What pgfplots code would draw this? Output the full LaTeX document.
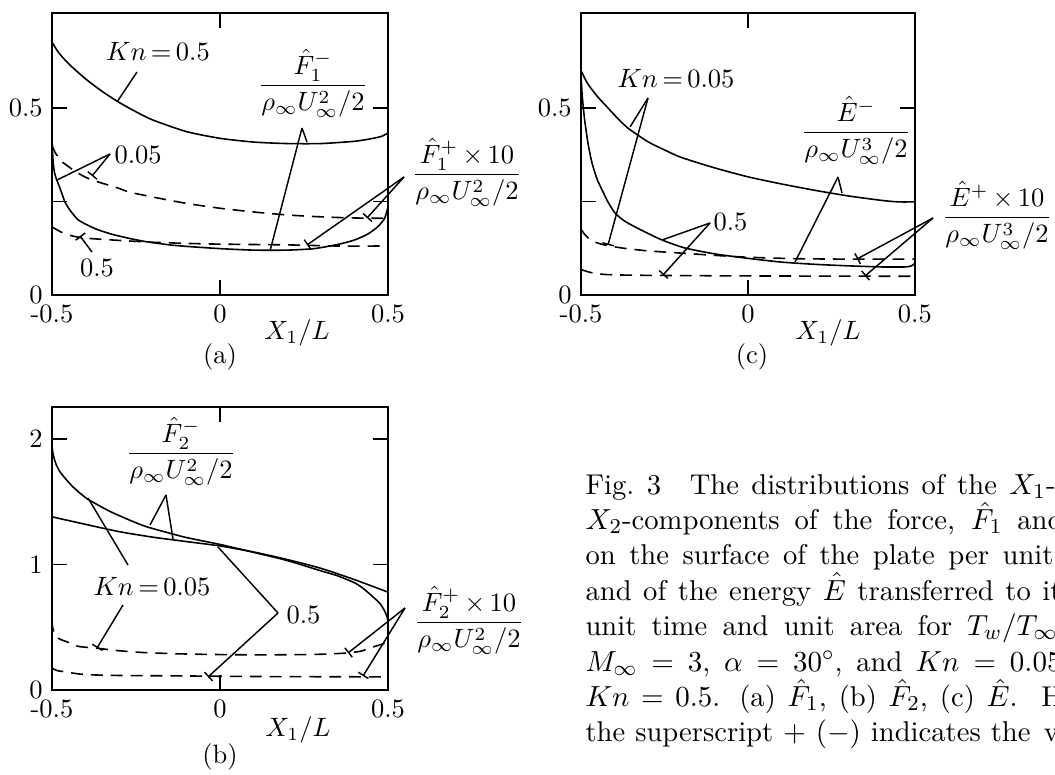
\documentclass[border=0pt]{standalone}
\usepackage{amsmath}
\usepackage{pgfplots}
\pgfplotsset{compat=1.18}
\usetikzlibrary{arrows.meta}

\newdimen\pxu \pxu=0.3774pt

\pgfplotsset{
  panel/.style={
    scale only axis,
    anchor=south west,
    xmin=-0.5, xmax=0.5, ymin=0,
    xtick={-0.5,0,0.5},
    xticklabels={\mbox{-0.5},0,0.5},
    tick align=inside,
    major tick length=5.6pt,
    axis line style={line width=0.75pt},
    major tick style={line width=0.6pt, black},
    tick label style={font=\normalsize},
  },
  sol/.style={black, line width=0.6pt, smooth, tension=0.4, no marks},
  das/.style={black, line width=0.6pt, dash pattern=on 4.5pt off 3pt, smooth, tension=0.4, no marks},
}
\tikzset{
  lead/.style={line width=0.55pt},
  leadbar/.style={line width=0.55pt, -{Bar[width=4.5pt]}},
}

\begin{document}
\begin{tikzpicture}[x=0.3774pt, y=-0.3774pt]
\useasboundingbox (0,0) rectangle (1055,774);
\clip (0,0) rectangle (1055,774);

% ---------- (a) F1 ----------
\begin{axis}[panel, at={(19.62pt,-111.33pt)}, width=126.8pt, height=106.4pt,
  ymax=0.754, ytick={0,0.25,0.5}, yticklabels={0,,0.5}]
% Kn = 0.5, F1^-
\addplot[sol] coordinates {(-0.5,0.676) (-0.48,0.648) (-0.45,0.618) (-0.4,0.578)
  (-0.35,0.544) (-0.3,0.515) (-0.25,0.49) (-0.2,0.468) (-0.1,0.437) (0,0.419)
  (0.1,0.409) (0.2,0.405) (0.3,0.405) (0.4,0.411) (0.45,0.418) (0.48,0.424) (0.5,0.433)};
% Kn = 0.05, F1^-
\addplot[sol] coordinates {(-0.5,0.42) (-0.497,0.36) (-0.493,0.33) (-0.487,0.31)
  (-0.481,0.297) (-0.47,0.27) (-0.461,0.248) (-0.445,0.225) (-0.422,0.201)
  (-0.39,0.185) (-0.362,0.174) (-0.32,0.162) (-0.273,0.152) (-0.223,0.143)
  (-0.15,0.134) (-0.1,0.13) (0,0.124) (0.1,0.12) (0.2,0.12) (0.28,0.124)
  (0.35,0.135) (0.4,0.147) (0.44,0.163) (0.47,0.183) (0.49,0.205) (0.5,0.235)};
% Kn = 0.05, F1^+ x 10
\addplot[das] coordinates {(-0.5,0.40) (-0.49,0.38) (-0.475,0.36) (-0.461,0.35)
  (-0.43,0.33) (-0.4,0.315) (-0.372,0.305) (-0.3,0.285) (-0.274,0.276)
  (-0.2,0.262) (-0.1,0.245) (0,0.232) (0.1,0.222) (0.2,0.214) (0.3,0.209)
  (0.4,0.206) (0.5,0.205)};
% Kn = 0.5, F1^+ x 10
\addplot[das] coordinates {(-0.5,0.182) (-0.47,0.167) (-0.44,0.158) (-0.4,0.152)
  (-0.3,0.146) (-0.2,0.141) (-0.1,0.138) (0,0.136) (0.2,0.134) (0.35,0.131) (0.5,0.131)};
\end{axis}

% ---------- (c) E ----------
\begin{axis}[panel, at={(219.27pt,-111.33pt)}, width=126.0pt, height=106.4pt,
  ymax=0.754, ytick={0,0.25,0.5}, yticklabels={0,,0.5}]
% Kn = 0.05, E^-
\addplot[sol] coordinates {(-0.5,0.6) (-0.48,0.565) (-0.45,0.53) (-0.419,0.5)
  (-0.39,0.472) (-0.359,0.446) (-0.3,0.41) (-0.25,0.388) (-0.2,0.368)
  (-0.1,0.34) (0,0.316) (0.1,0.297) (0.2,0.28) (0.3,0.265) (0.4,0.253)
  (0.45,0.249) (0.5,0.249)};
% Kn = 0.5, E^-
\addplot[sol] coordinates {(-0.5,0.59) (-0.497,0.54) (-0.493,0.5) (-0.488,0.46)
  (-0.478,0.40) (-0.467,0.353) (-0.452,0.31) (-0.437,0.281) (-0.42,0.25)
  (-0.398,0.219) (-0.37,0.198) (-0.338,0.182) (-0.3,0.165) (-0.257,0.147)
  (-0.19,0.126) (-0.1,0.11) (0,0.098) (0.1,0.088) (0.2,0.082) (0.3,0.078)
  (0.4,0.075) (0.47,0.075) (0.49,0.078) (0.5,0.085)};
% Kn = 0.05, E^+ x 10
\addplot[das] coordinates {(-0.5,0.176) (-0.49,0.163) (-0.478,0.152) (-0.46,0.142)
  (-0.43,0.134) (-0.38,0.126) (-0.3,0.118) (-0.2,0.112) (-0.1,0.106) (0,0.101)
  (0.15,0.097) (0.3,0.096) (0.5,0.096)};
% Kn = 0.5, E^+ x 10
\addplot[das] coordinates {(-0.5,0.068) (-0.47,0.06) (-0.43,0.055) (-0.35,0.053)
  (-0.2,0.052) (0,0.051) (0.5,0.05)};
\end{axis}

% ---------- (b) F2 ----------
\begin{axis}[panel, at={(19.62pt,-260.41pt)}, width=126.8pt, height=106.8pt,
  ymax=2.255, ytick={0,1,2}, yticklabels={0,1,2}]
% Kn = 0.5, F2^-
\addplot[sol] coordinates {(-0.5,1.38) (-0.4,1.32) (-0.3,1.262) (-0.2,1.218)
  (-0.1,1.183) (0,1.148) (0.1,1.1) (0.2,1.04) (0.3,0.97) (0.4,0.88) (0.5,0.78)};
% Kn = 0.05, F2^-
\addplot[sol] coordinates {(-0.5,1.95) (-0.498,1.9) (-0.494,1.85) (-0.488,1.8)
  (-0.479,1.75) (-0.465,1.70) (-0.44,1.625) (-0.415,1.565) (-0.393,1.52)
  (-0.35,1.455) (-0.321,1.415) (-0.27,1.355) (-0.223,1.305) (-0.164,1.26)
  (-0.1,1.215) (0,1.16) (0.1,1.097) (0.2,1.032) (0.3,0.95) (0.35,0.91)
  (0.4,0.855) (0.426,0.81) (0.45,0.755) (0.476,0.69) (0.49,0.63) (0.497,0.585)
  (0.5,0.55)};
% Kn = 0.05, F2^+ x 10
\addplot[das] coordinates {(-0.5,0.56) (-0.498,0.5) (-0.494,0.46) (-0.485,0.42)
  (-0.472,0.4) (-0.456,0.385) (-0.422,0.348) (-0.366,0.333) (-0.3,0.313)
  (-0.223,0.298) (-0.1,0.287) (0.05,0.281) (0.2,0.281) (0.3,0.285)
  (0.378,0.295) (0.42,0.31) (0.446,0.335) (0.47,0.355) (0.5,0.38)};
% Kn = 0.5, F2^+ x 10
\addplot[das] coordinates {(-0.5,0.175) (-0.485,0.155) (-0.461,0.145) (-0.42,0.128)
  (-0.372,0.12) (-0.3,0.116) (-0.1,0.112) (0.1,0.108) (0.3,0.106) (0.5,0.105)};
\end{axis}

% ---------- labels and leaders, (a) ----------
\node at (158,51) {$Kn\,{=}\,0.5$};
\draw[lead] (137,72) -- (117,102);
\node[anchor=base] at (313,92.5) {$\dfrac{\hat F_1^-}{\rho_\infty U_\infty^2/2}$};
\draw[lead] (302,128) -- (270,251);
\draw[lead] (302,128) -- (307,142);
\node[anchor=west, inner sep=0pt] at (114,155) {$0.05$};
\draw[lead] (110,154) -- (57,180);
\draw[leadbar] (110,154) -- (92,176);
\node at (97,268) {$0.5$};
\draw[leadbar] (92,252) -- (80,236);
\node[anchor=base] at (467,181.5) {$\dfrac{\hat F_1^+\,{\times}\,10}{\rho_\infty U_\infty^2/2}$};
\draw[leadbar] (404,177) -- (307,245);
\draw[leadbar] (404,177) -- (367,218);
\node at (297,333) {$X_1/L$};
\node at (220,357) {(a)};

% ---------- labels and leaders, (c) ----------
\node at (676,78) {$Kn\,{=}\,0.05$};
\draw[lead] (648,98) -- (630,127);
\draw[leadbar] (648,98) -- (608,245);
\node[anchor=base] at (856,139.5) {$\dfrac{\hat E^-}{\rho_\infty U_\infty^3/2}$};
\draw[lead] (838,177) -- (842,193);
\draw[lead] (838,177) -- (795,262);
\node[anchor=west, inner sep=0pt] at (713,222) {$0.5$};
\draw[lead] (710,223) -- (662,240);
\draw[leadbar] (710,223) -- (663,275);
\node[anchor=base] at (997,224.5) {$\dfrac{\hat E^+\,{\times}\,10}{\rho_\infty U_\infty^3/2}$};
\draw[leadbar] (933,218) -- (857,259);
\draw[leadbar] (933,218) -- (865,276);
\node at (828,333) {$X_1/L$};
\node at (752,357) {(c)};

% ---------- labels and leaders, (b) ----------
\node[anchor=base] at (181,460.5) {$\dfrac{\hat F_2^-}{\rho_\infty U_\infty^2/2}$};
\draw[lead] (166,495) -- (150,525);
\draw[lead] (166,495) -- (173,539);
\node at (152,586) {$Kn\,{=}\,0.05$};
\draw[lead] (128,565) -- (88,498);
\draw[leadbar] (123,605) -- (97,648);
\node[anchor=west, inner sep=0pt] at (286,615) {$0.5$};
\draw[lead] (278,613) -- (218,547);
\draw[leadbar] (278,613) -- (208,677);
\node[anchor=base] at (469,629.5) {$\dfrac{\hat F_2^+\,{\times}\,10}{\rho_\infty U_\infty^2/2}$};
\draw[leadbar] (405,608) -- (348,653);
\draw[leadbar] (405,608) -- (363,676);
\node at (298,730) {$X_1/L$};
\node at (220,757) {(b)};

% ---------- caption ----------
\begin{scope}[every node/.style={anchor=base west, inner sep=0pt, font=\fontsize{10.8}{13}\selectfont}]
\node at (585,494.0) {\makebox[470\pxu][s]{Fig.\ 3\quad The distributions of the $X_1$-}};
\node at (585,529.4) {\makebox[478\pxu][s]{$X_2$-components of the force, $\hat F_1$ and}};
\node at (585,564.8) {\makebox[468\pxu][s]{on the surface of the plate per unit}};
\node at (585,600.2) {\makebox[476\pxu][s]{and of the energy $\hat E$ transferred to it}};
\node at (585,635.6) {\makebox[472\pxu][s]{unit time and unit area for $T_w/T_\infty$}};
\node at (585,671.0) {\makebox[476\pxu][s]{$M_\infty = 3$, $\alpha = 30^\circ$, and $Kn = 0.05$}};
\node at (585,706.4) {\makebox[432\pxu][s]{$Kn = 0.5$. (a) $\hat F_1$, (b) $\hat F_2$, (c) $\hat E$.}\hspace{9pt}Here};
\node at (585,741.8) {\makebox[445\pxu][s]{the superscript $+$ $(-)$ indicates the}\hspace{5pt}value};
\end{scope}
\end{tikzpicture}
\end{document}
